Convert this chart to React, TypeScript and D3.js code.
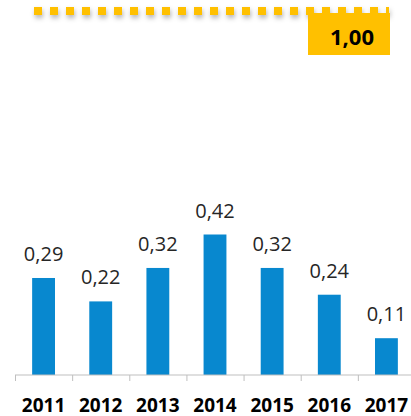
import React from 'react'
import { scaleBand, scaleLinear, format } from 'd3'

const years = ['2011', '2012', '2013', '2014', '2015', '2016', '2017']
const values = [0.29, 0.22, 0.32, 0.42, 0.32, 0.24, 0.11]
const targetValue = 1.0

const W = 411
const H = 416
const BLUE = '#0888cf'
const GOLD = '#ffc000'

const fmt = (v: number) => format('.2f')(v).replace('.', ',')

const App = () => {
  // band scale for the years, linear scale for the values
  const x = scaleBand<string>()
    .domain(years)
    .range([15, 415])
    .paddingInner(0.6)
    .paddingOuter(0.3)
  const step = x.step()
  const y = scaleLinear().domain([0, 1.121]).range([375, 0])

  const baseY = y(0)
  const targetY = 11 // reference line sits above the plot area

  return (
    <svg width={W} height={H} style={{ position: 'absolute', left: 0, top: 0 }}
      fontFamily="'Open Sans', sans-serif">
      <defs>
        <filter id="shadow" filterUnits="userSpaceOnUse" x={0} y={0} width={W} height={40}>
          <feDropShadow dx="1" dy="3" stdDeviation="2.5" floodColor="#000" floodOpacity="0.3" />
        </filter>
      </defs>

      {/* target line + label */}
      <line x1={34} x2={389} y1={targetY} y2={targetY}
        stroke={GOLD} strokeWidth={8} strokeDasharray="8 8" filter="url(#shadow)" />
      <rect x={308} y={13} width={82} height={42} fill={GOLD} />
      <text x={352} y={44.5} textAnchor="middle" fontSize={22} fontWeight="bold" fill="#000">
        {fmt(targetValue)}
      </text>

      {/* bars */}
      {values.map((v, i) => (
        <rect key={years[i]} x={x(years[i])} y={y(v)} width={x.bandwidth()}
          height={baseY - y(v)} fill={BLUE} />
      ))}

      {/* value labels */}
      {values.map((v, i) => (
        <text key={'l' + years[i]} x={(x(years[i]) ?? 0) + x.bandwidth() / 2} y={y(v) - 17}
          textAnchor="middle" fontSize={20} fill="#262626">
          {fmt(v)}
        </text>
      ))}

      {/* axis */}
      <line x1={15} x2={W} y1={baseY} y2={baseY} stroke="#bfbfbf" strokeWidth={1} />
      {years.map((yr, i) => {
        const tx = 15.5 + i * step
        return <line key={'t' + yr} x1={tx} x2={tx} y1={baseY} y2={baseY + 6} stroke="#bfbfbf" />
      })}
      {years.map(yr => (
        <text key={'y' + yr} x={(x(yr) ?? 0) + x.bandwidth() / 2} y={411.5}
          textAnchor="middle" fontSize={19} fontWeight="bold" fill="#000">
          {yr}
        </text>
      ))}
    </svg>
  )
}

export default App
